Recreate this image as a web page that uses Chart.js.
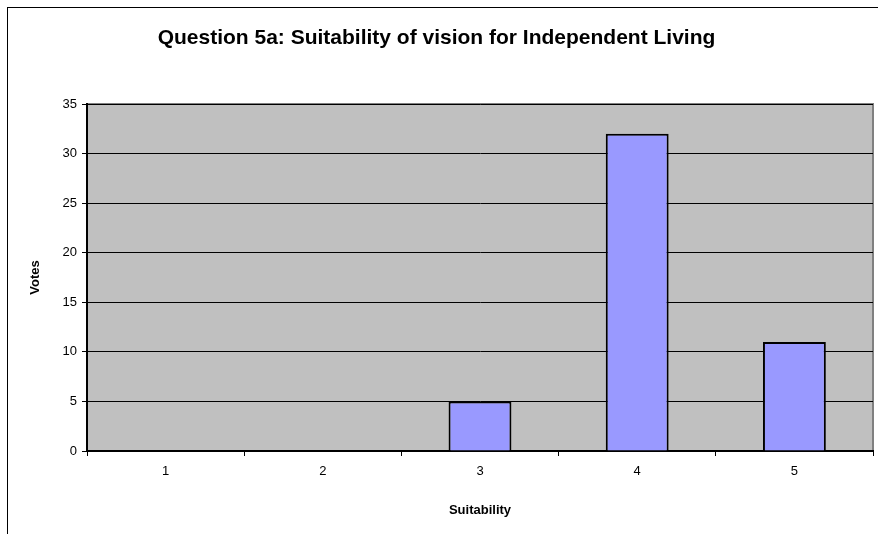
<!DOCTYPE html>
<html>
<head>
<meta charset="utf-8">
<script src="https://cdn.jsdelivr.net/npm/chart.js@4/dist/chart.umd.min.js"></script>
<style>
  html, body { margin: 0; padding: 0; background: #ffffff; }
  #wrap { width: 878px; height: 534px; }
</style>
</head>
<body>
<div id="wrap"><canvas id="c" width="878" height="534"></canvas></div>
<script>
const chartTitle = "Question 5a: Suitability of vision for Independent Living";
const categories = ["1", "2", "3", "4", "5"];
const votes = [0, 0, 5, 32, 11];
const xAxisTitle = "Suitability";
const yAxisTitle = "Votes";

const frameAndPlot = {
  id: 'frameAndPlot',
  beforeDraw(chart) {
    const ctx = chart.ctx;
    const a = chart.chartArea;
    ctx.save();
    ctx.fillStyle = '#ffffff';
    ctx.fillRect(0, 0, chart.width, chart.height);
    ctx.strokeStyle = '#000000';
    ctx.lineWidth = 1;
    ctx.strokeRect(7.5, 7.5, chart.width + 20, chart.height + 20);
    ctx.fillStyle = '#c0c0c0';
    ctx.fillRect(a.left, a.top, a.right - a.left, a.bottom - a.top);
    ctx.strokeStyle = '#808080';
    ctx.lineWidth = 2;
    ctx.beginPath();
    ctx.moveTo(a.left, a.top);
    ctx.lineTo(a.right, a.top);
    ctx.lineTo(a.right, a.bottom);
    ctx.stroke();
    ctx.restore();
  }
};

const FONT = 'Liberation Sans, Arial, sans-serif';

new Chart(document.getElementById('c'), {
  type: 'bar',
  data: {
    labels: categories,
    datasets: [{
      data: votes,
      backgroundColor: '#9999ff',
      borderColor: '#000000',
      borderWidth: 2,
      barPercentage: 0.4,
      categoryPercentage: 1.0
    }]
  },
  options: {
    responsive: false,
    animation: false,
    devicePixelRatio: 1,
    layout: { padding: { left: 0, right: 5, top: 0, bottom: 0 } },
    plugins: {
      legend: { display: false },
      tooltip: { enabled: false },
      title: {
        display: true,
        text: chartTitle,
        color: '#000000',
        font: { family: FONT, size: 21, weight: 'bold', lineHeight: 1.2 },
        padding: { top: 25.4, bottom: 53.4 }
      }
    },
    scales: {
      x: {
        afterFit(s) { s.height = 83; },
        grid: { display: true, drawOnChartArea: false, drawTicks: true, tickLength: 5, tickColor: '#000000', offset: true },
        border: { display: true, color: '#000000', width: 2 },
        ticks: { color: '#000000', font: { family: FONT, size: 13 }, padding: 8, maxRotation: 0 },
        title: {
          display: true, text: xAxisTitle, color: '#000000',
          font: { family: FONT, size: 13, weight: 'bold', lineHeight: 1.2 },
          padding: { top: 0, bottom: 16.2 }
        }
      },
      y: {
        min: 0, max: 35,
        afterFit(s) { s.width = 87; },
        grid: { color: '#000000', lineWidth: 1, drawTicks: true, tickLength: 5, tickColor: '#000000' },
        border: { display: true, color: '#000000', width: 2 },
        ticks: { stepSize: 5, color: '#000000', font: { family: FONT, size: 13 }, padding: 5 },
        title: {
          display: true, text: yAxisTitle, color: '#000000',
          font: { family: FONT, size: 13, weight: 'bold', lineHeight: 1.2 },
          padding: { top: 27.2, bottom: 0 }
        }
      }
    }
  },
  plugins: [frameAndPlot]
});
</script>
</body>
</html>
